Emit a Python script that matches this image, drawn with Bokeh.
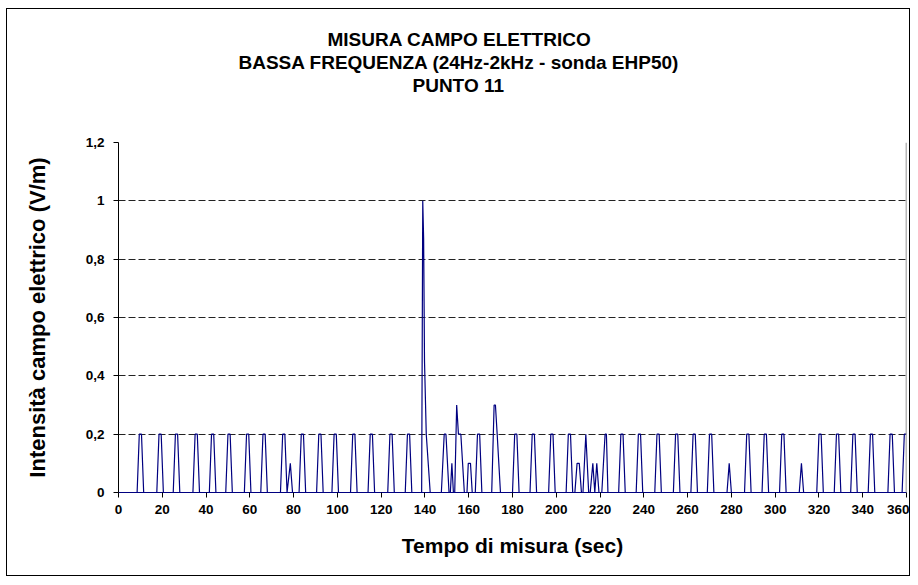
from bokeh.plotting import figure
from bokeh.models import Span, FixedTicker, CustomJSTickFormatter, Range1d, Title
from bokeh.embed import file_html
from bokeh.resources import INLINE

FONT = "Liberation Sans"

title_lines = [
    "MISURA CAMPO ELETTRICO",
    "BASSA FREQUENZA (24Hz-2kHz - sonda EHP50)",
    "PUNTO 11",
]
x_label = "Tempo di misura (sec)"
y_label = "Intensità campo elettrico (V/m)"
x_ticks = list(range(0, 361, 20))
y_ticks = [0, 0.2, 0.4, 0.6, 0.8, 1, 1.2]

# measurement vertices: time (s) and electric field (V/m)
time_s = [
    0,
    8.5, 9.5, 10.5, 11.5,
    17.5, 18.5, 19.5, 20.5,
    25, 26, 27, 28,
    34, 35, 36, 37,
    41.5, 42.5, 43.5, 44.5,
    49, 50, 51, 52,
    57.5, 58.5, 59.5, 60.5,
    65, 66, 67, 68,
    74, 75, 76, 77, 78.5, 79.5,
    82.5, 83.5, 84.5, 85.5,
    90.5, 91.5, 92.5, 93.5,
    97.5, 98.5, 99.5, 100.5,
    106, 107, 108, 109,
    114, 115, 116, 117,
    123, 124, 125, 126,
    131, 132, 133, 134,
    138.5, 139, 139.4, 139.8, 140.6, 142.4,
    147.5, 148.8, 149.6, 151, 151.6, 152.3, 153,
    153.6, 154.5, 155.3, 156.4, 158,
    159.2, 159.8, 160.8, 161.6,
    163, 164, 165, 166,
    170.5, 171.6, 172.2, 173, 174.5,
    180, 181, 182, 183,
    188, 189, 190, 191,
    196.5, 197.5, 198.5, 199.5,
    204.5, 205.5, 206.5, 207.5,
    208.5, 209.5, 210.5, 211.5,
    212.2, 213.5, 214.8,
    215.5, 216.7, 217.6, 218.5, 219.5,
    220.8, 222.3, 222.9, 223.6,
    228.5, 229.5, 230.5, 231.5,
    236.5, 237.5, 238.5, 239.5,
    245, 246, 247, 248,
    253.5, 254.5, 255.5, 256.5,
    261.5, 262.5, 263.5, 264.5,
    269, 270, 271, 272,
    278, 279, 280,
    286, 287, 288, 289,
    294, 295, 296, 297,
    302, 303, 304, 305,
    311, 312, 313,
    319, 320, 321, 322,
    327, 328, 329, 330,
    334.5, 335.5, 336.5, 337.5,
    342.5, 343.5, 344.5, 345.5,
    351.5, 352.5, 353.5, 354.5,
    358, 359, 360,
]
field_vm = [
    0,
    0, 0.2, 0.2, 0,
    0, 0.2, 0.2, 0,
    0, 0.2, 0.2, 0,
    0, 0.2, 0.2, 0,
    0, 0.2, 0.2, 0,
    0, 0.2, 0.2, 0,
    0, 0.2, 0.2, 0,
    0, 0.2, 0.2, 0,
    0, 0.2, 0.2, 0, 0.1, 0,
    0, 0.2, 0.2, 0,
    0, 0.2, 0.2, 0,
    0, 0.2, 0.2, 0,
    0, 0.2, 0.2, 0,
    0, 0.2, 0.2, 0,
    0, 0.2, 0.2, 0,
    0, 0.2, 0.2, 0,
    0, 1.0, 0.87, 0.45, 0.2, 0,
    0, 0.2, 0.2, 0, 0, 0.1, 0,
    0, 0.3, 0.2, 0.2, 0,
    0, 0.1, 0.1, 0,
    0, 0.2, 0.2, 0,
    0, 0.3, 0.3, 0.2, 0,
    0, 0.2, 0.2, 0,
    0, 0.2, 0.2, 0,
    0, 0.2, 0.2, 0,
    0, 0.2, 0.2, 0,
    0, 0.1, 0.1, 0,
    0, 0.2, 0,
    0, 0.1, 0, 0.1, 0,
    0, 0.2, 0.2, 0,
    0, 0.2, 0.2, 0,
    0, 0.2, 0.2, 0,
    0, 0.2, 0.2, 0,
    0, 0.2, 0.2, 0,
    0, 0.2, 0.2, 0,
    0, 0.2, 0.2, 0,
    0, 0.1, 0,
    0, 0.2, 0.2, 0,
    0, 0.2, 0.2, 0,
    0, 0.2, 0.2, 0,
    0, 0.1, 0,
    0, 0.2, 0.2, 0,
    0, 0.2, 0.2, 0,
    0, 0.2, 0.2, 0,
    0, 0.2, 0.2, 0,
    0, 0.2, 0.2, 0,
    0, 0.2, 0.2,
]

SERIES_COLOR = "#000080"

p = figure(
    width=904, height=568,
    x_range=Range1d(0, 360), y_range=Range1d(0, 1.2),
    output_backend="svg", toolbar_location=None,
    min_border_left=111, min_border_right=5,
    min_border_top=133, min_border_bottom=85,
    background_fill_color="white", border_fill_color="white",
)
# thin black frame around the whole chart
p.styles = {"border": "1px solid black"}
p.margin = (8, 0, 0, 6)
p.outline_line_color = None

p.line(time_s, field_vm, line_color=SERIES_COLOR, line_width=1.2)

# axes
for ax in (p.xaxis, p.yaxis):
    ax.axis_line_color = "black"
    ax.major_tick_line_color = "black"
    ax.major_tick_in = 0
    ax.major_tick_out = 5
    ax.minor_tick_line_color = None
    ax.major_label_text_font = FONT
    ax.major_label_text_font_size = "13.5px"
    ax.major_label_text_font_style = "bold"
    ax.major_label_text_color = "black"
    ax.axis_label_text_font = FONT
    ax.axis_label_text_font_style = "bold"
    ax.axis_label_text_color = "black"
# the series runs along the zero line, so the baseline reads in the series colour
p.xaxis.axis_line_color = SERIES_COLOR
p.xaxis.axis_label_text_font_size = "21px"
p.yaxis.axis_label_text_font_size = "22px"

p.xaxis.ticker = FixedTicker(ticks=x_ticks)
p.yaxis.ticker = FixedTicker(ticks=y_ticks)
p.yaxis.formatter = CustomJSTickFormatter(code="return tick.toString().replace('.', ',');")
p.xaxis.axis_label = x_label
p.yaxis.axis_label = y_label
p.xaxis.major_label_standoff = 7
p.yaxis.major_label_standoff = 9
p.xaxis.axis_label_standoff = 17
p.yaxis.axis_label_standoff = 33

p.xgrid.visible = False
p.ygrid.grid_line_color = "#222222"
p.ygrid.grid_line_dash = "7 3"
p.ygrid.grid_line_width = 1

# right edge of the plot area
p.add_layout(Span(location=360, dimension="height", line_color="#707070", line_width=1.5))

# three-line title, innermost line first; offsets centre each line on the chart,
# bottom padding on the last line leaves a blank band above the plot area
title_offsets = [209, 120, 294]
title_pad_bottom = [0, 0, 47]
has_padding = "padding" in Title.properties()
for line, off, pad in reversed(list(zip(title_lines, title_offsets, title_pad_bottom))):
    t = Title(
        text=line, align="left", offset=off, standoff=0,
        text_font=FONT, text_font_size="19px", text_font_style="bold",
        text_color="black",
    )
    if has_padding and pad:
        t.padding = dict(left=0, right=0, top=0, bottom=pad)
    p.add_layout(t, "above")

open("out.html", "w").write(file_html(p, INLINE))
